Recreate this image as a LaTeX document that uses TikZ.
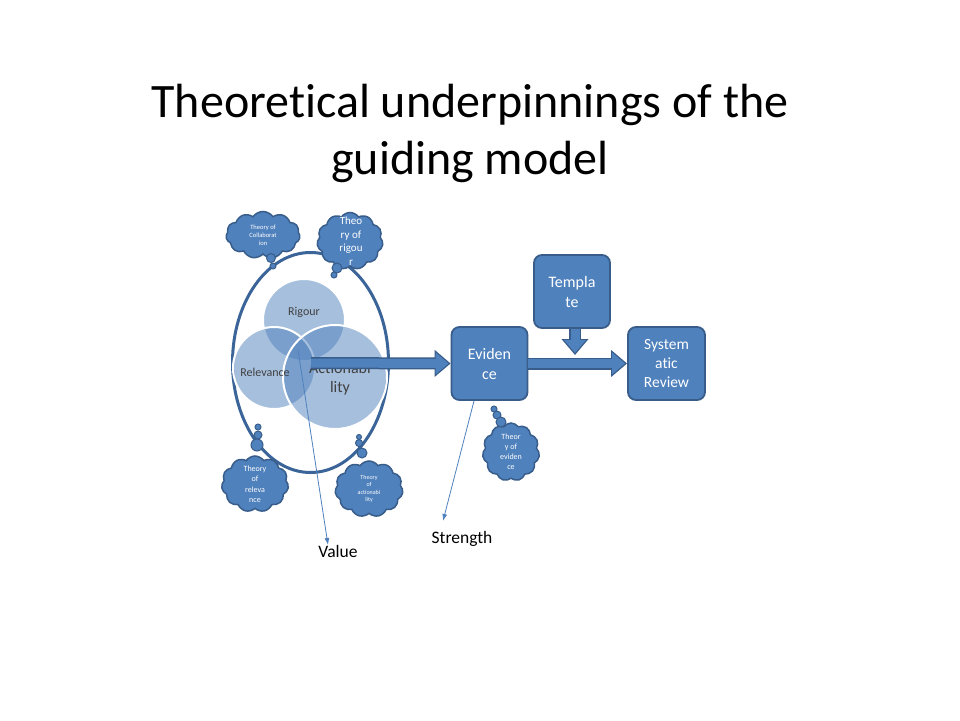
\documentclass[tikz,border=0pt]{standalone}
\usepackage{fontspec}
\setmainfont{Carlito}[Ligatures=NoCommon]
\usetikzlibrary{positioning,
				arrows.meta,
				shapes.symbols,
				calc}
\definecolor{boxblue}{HTML}{4F81BD}
\definecolor{boxline}{HTML}{385D8A}
\definecolor{ringblue}{HTML}{3B6598}
\definecolor{venngray}{HTML}{404040}

\begin{document}
\begin{tikzpicture}[x=1pt,y=-1pt,
  box/.style={draw=boxline, line width=1.8pt, fill=boxblue, rounded corners=8pt,
    text=white, align=center, minimum width=76pt, minimum height=73pt,
    inner sep=2pt, font=\fontsize{16}{20}\selectfont},
  venn/.style={circle, inner sep=0pt, fill=boxblue, fill opacity=0.5,
    draw=white, line width=2pt},
  venntext/.style={text=venngray, align=center},
  thought/.style={cloud, cloud puffs=11, cloud puff arc=110, cloud ignores aspect,
    draw=boxline, line width=1.5pt, fill=boxblue, inner sep=0pt},
  thoughttext/.style={text=white, align=center},
  bubble/.style={fill=boxblue, draw=boxline, line width=1pt},
  bigarrow/.style={line width=9pt, draw=boxblue, -{Triangle[length=13pt,width=21pt]},
    shorten >=2pt,
    preaction={draw=boxline, line width=12pt, -{Triangle[length=16pt,width=26pt]},
      shorten >=0pt}},
  thinarrow/.style={draw=boxblue, line width=0.8pt, -{Latex[length=7pt,width=5pt]}},
  plain/.style={text=black, font=\fontsize{17.5}{20}\selectfont}]
  \fill[white] (0,0) rectangle (960,720);
  \useasboundingbox (0,0) rectangle (960,720);

  \node[align=center, font=\fontsize{48}{57}\selectfont] (title) at (470,133)
    {Theoretical underpinnings of the\\guiding model};

  \draw[ringblue, line width=3pt] (310.5,362.5) ellipse [x radius=78pt, y radius=110pt];

  \node[venn, minimum size=82pt] (rig) at (304,320) {};
  \node[venn, minimum size=82pt] (rel) at (274,368) {};
  \node[venn, minimum size=104pt] (act) at (335,377) {};
  \node[venntext, font=\fontsize{12}{14}\selectfont] at (304,312) {Rigour};
  \node[venntext, font=\fontsize{12}{14}\selectfont] at (265,372) {Relevance};
  \node[venntext, font=\fontsize{16}{19}\selectfont] at (340,379) {Actionabi\\lity};

  \node[box] (ev) at (489.5,363.5) {Eviden\\ce};
  \node[box] (tpl) at (572,291.5) {Templa\\te};
  \node[box, minimum width=77pt, font=\fontsize{15.5}{19}\selectfont] (sr) at (666.5,363.5)
    {System\\atic\\Review};

  \coordinate (atail) at (311,363);
  \coordinate (tplhit) at (575,355);
  \draw[bigarrow] (atail) -- (ev.west);
  \draw[bigarrow] (ev.east) -- (sr.west);
  \draw[bigarrow] (tpl.south -| tplhit) -- (tplhit);

  \node[thought, minimum width=74pt, minimum height=47pt] (ccol) at (263,235) {};
  \node[thought, minimum width=66pt, minimum height=57pt] (crig) at (350,241) {};
  \node[thought, minimum width=67pt, minimum height=56pt] (crel) at (255,484) {};
  \node[thought, minimum width=68pt, minimum height=56pt] (cact) at (369,489) {};
  \node[thought, minimum width=57pt, minimum height=58pt] (cevi) at (511,452) {};
  \node[thoughttext, font=\fontsize{6.5}{8}\selectfont] at (ccol) {Theory of\\Collaborat\\ion};
  \node[thoughttext, font=\fontsize{11}{13.5}\selectfont] at (351,241) {Theo\\ry of\\rigou\\r};
  \node[thoughttext, font=\fontsize{8}{10.5}\selectfont] at (crel) {Theory\\of\\releva\\nce};
  \node[thoughttext, font=\fontsize{6}{7.5}\selectfont] at (cact) {Theory\\of\\actionabi\\lity};
  \node[thoughttext, font=\fontsize{8}{10}\selectfont] at (cevi) {Theor\\y of\\eviden\\ce};

  \foreach \x/\y/\r in {271/258/4.5, 273/266/3, 337/268/5, 334/275/3,
                        258/427/3, 258/435/4, 257/445/6,
                        359/437/2.5, 359/443/3.5, 362/453/5,
                        494/409/3, 497/415/4, 501/422/5}
    \draw[bubble] (\x,\y) circle (\r pt);

  \node[plain] (val) at (338,551) {Value};
  \node[plain] (str) at (462,539) {Strength};
  \coordinate (vstart) at (298,350);
  \coordinate (vend) at (328,545);
  \coordinate (send) at (443,521);
  \draw[thinarrow] (vstart) -- (vend);
  \draw[thinarrow] (ev.south -| 474,0) -- (send);
\end{tikzpicture}
\end{document}
